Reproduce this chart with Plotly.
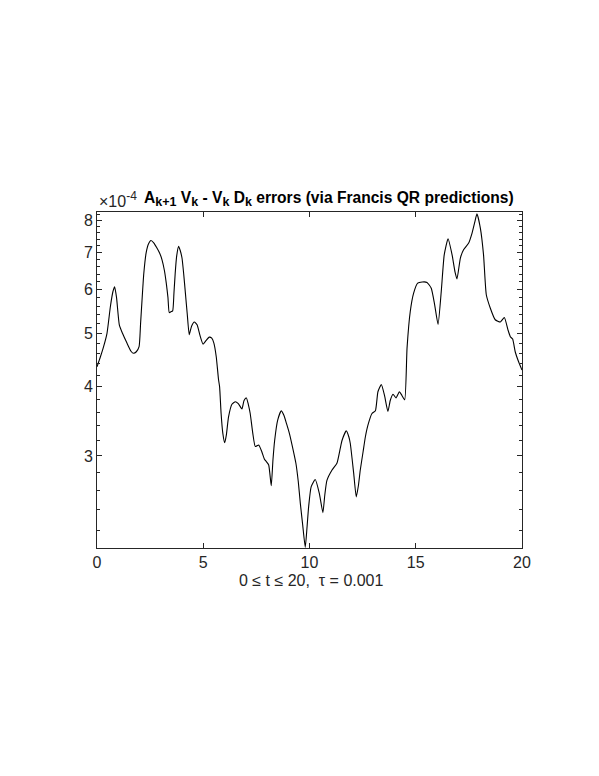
import plotly.graph_objects as go
import math

# time values
t_vals = [0.00, 0.15, 0.31, 0.47, 0.63, 0.75, 0.83, 0.92, 1.05, 1.20, 1.41, 1.60, 1.72, 1.85, 1.98,
          2.05, 2.12, 2.20, 2.31, 2.42, 2.54, 2.68, 2.82, 2.95, 3.06, 3.17, 3.26, 3.34, 3.40, 3.48,
          3.56, 3.62, 3.68, 3.75, 3.84, 3.92, 4.00, 4.08, 4.16, 4.25, 4.34, 4.45, 4.58, 4.71, 4.85,
          4.99, 5.13, 5.28, 5.40, 5.50, 5.61, 5.72, 5.77, 5.84, 5.92, 6.01, 6.09, 6.19, 6.35, 6.51,
          6.65, 6.82, 6.92, 7.03, 7.12, 7.21, 7.33, 7.45, 7.61, 7.76, 7.88, 7.97, 8.08, 8.20, 8.28,
          8.36, 8.50, 8.67, 8.80, 8.91, 9.05, 9.18, 9.36, 9.47, 9.57, 9.68, 9.80, 9.88, 9.96, 10.08,
          10.27, 10.46, 10.63, 10.72, 10.82, 11.06, 11.29, 11.45, 11.53, 11.73, 11.85, 11.92, 12.08,
          12.20, 12.30, 12.39, 12.52, 12.63, 12.75, 12.94, 13.10, 13.22, 13.38, 13.53, 13.69, 13.80,
          13.93, 14.07, 14.23, 14.35, 14.48, 14.59, 14.74, 14.90, 15.09, 15.30, 15.53, 15.73, 15.89,
          16.05, 16.20, 16.34, 16.52, 16.71, 16.85, 16.94, 17.10, 17.25, 17.49, 17.65, 17.78, 17.88,
          18.04, 18.19, 18.32, 18.51, 18.74, 18.98, 19.17, 19.34, 19.45, 19.56, 19.68, 19.84, 20.00]

# errors in units of 1e-4
err_e4 = [4.35, 4.52, 4.73, 5.00, 5.59, 5.95, 6.07, 5.80, 5.18, 5.00, 4.80, 4.64, 4.60, 4.63, 4.73,
          5.20, 5.75, 6.40, 6.98, 7.25, 7.36, 7.28, 7.13, 6.98, 6.79, 6.50, 6.16, 5.80, 5.45, 5.47,
          5.49, 5.90, 6.42, 6.90, 7.18, 7.05, 6.84, 6.40, 5.91, 5.40, 4.97, 5.15, 5.24, 5.18, 4.95,
          4.78, 4.85, 4.92, 4.90, 4.80, 4.54, 4.12, 4.00, 3.58, 3.30, 3.17, 3.28, 3.53, 3.72, 3.76,
          3.73, 3.65, 3.78, 3.82, 3.72, 3.58, 3.30, 3.12, 3.14, 3.05, 2.96, 2.93, 2.89, 2.65, 2.95,
          3.20, 3.48, 3.62, 3.55, 3.44, 3.30, 3.14, 2.91, 2.70, 2.46, 2.25, 2.05, 2.22, 2.43, 2.64,
          2.72, 2.57, 2.37, 2.55, 2.71, 2.83, 2.91, 3.10, 3.20, 3.33, 3.25, 3.16, 2.79,
          2.53, 2.65, 2.83, 3.05, 3.25, 3.41, 3.58, 3.62, 3.92, 4.04, 3.86, 3.61, 3.78,
          3.88, 3.82, 3.92, 3.86, 3.79, 4.70, 5.47, 5.91, 6.16, 6.19, 6.18, 6.03, 5.63,
          5.19, 5.95, 6.93, 7.41, 6.93, 6.45, 6.27, 6.84, 7.08, 7.28, 7.59, 7.95, 8.22,
          7.75, 6.93, 5.87, 5.55, 5.29, 5.24, 5.34, 5.07, 4.93, 4.88, 4.63, 4.44, 4.29]

scale = 1e-4
y_major = [3, 4, 5, 6, 7, 8]
y_major_text = ["3", "4", "5", "6", "7", "8"]
y_minor = [2.2, 2.4, 2.6, 2.8, 3.2, 3.4, 3.6, 3.8, 4.2, 4.4, 4.6, 4.8, 5.2, 5.4, 5.6, 5.8,
           6.2, 6.4, 6.6, 6.8, 7.2, 7.4, 7.6, 7.8, 8.2]
x_ticks = [0, 5, 10, 15, 20]
y_lo, y_hi = 2.045, 8.285

FONT = "Liberation Sans, Arial, Helvetica, sans-serif"
AXC = "#262626"

fig = go.Figure()
fig.add_trace(go.Scatter(
    x=t_vals, y=[v * scale for v in err_e4], mode="lines",
    line=dict(color="black", width=1.1, shape="spline", smoothing=0.5),
    hoverinfo="skip", showlegend=False))

fig.update_layout(
    width=599, height=776,
    margin=dict(l=89, r=85, t=204, b=236, pad=0),
    paper_bgcolor="white", plot_bgcolor="white",
    font=dict(family=FONT, size=16, color=AXC),
    showlegend=False,
)
fig.update_xaxes(
    range=[0, 20], tickvals=x_ticks, ticktext=[str(v) for v in x_ticks],
    ticks="inside", ticklen=5, tickwidth=1, tickcolor=AXC,
    showline=True, linecolor=AXC, linewidth=1, mirror="ticks",
    showgrid=False, zeroline=False, tickfont=dict(size=16, color=AXC),
)
fig.update_yaxes(
    type="log", range=[math.log10(y_lo * scale), math.log10(y_hi * scale)],
    tickvals=[v * scale for v in y_major], ticktext=y_major_text,
    ticks="inside", ticklen=5, tickwidth=1, tickcolor=AXC,
    minor=dict(tickmode="array", tickvals=[v * scale for v in y_minor],
               ticks="inside", ticklen=3, tickcolor=AXC, showgrid=False),
    showline=True, linecolor=AXC, linewidth=1, mirror="ticks",
    showgrid=False, zeroline=False, tickfont=dict(size=16, color=AXC),
)


def sub(s):
    return '<sub><span style="font-size:12.5px">' + s + '</span></sub>'


title_text = ("<b>A" + sub("k+1") + " V" + sub("k") + " - V" + sub("k") + " D" + sub("k")
              + " errors (via Francis QR predictions)</b>")

fig.add_annotation(
    text='×10<sup><span style="font-size:12px">-4</span></sup>', xref="paper", yref="paper",
    x=0.0, y=1.036, xanchor="left", yanchor="middle", showarrow=False,
    font=dict(family=FONT, size=16, color=AXC))
fig.add_annotation(
    text=title_text,
    xref="paper", yref="paper", x=0.545, y=1.040, xanchor="center", yanchor="middle",
    showarrow=False, font=dict(family=FONT, size=15.6, color="black"))
fig.add_annotation(
    text="0 ≤ t ≤ 20,\u00a0 τ = 0.001", xref="paper", yref="paper", x=0.504, y=-0.096,
    xanchor="center", yanchor="middle", showarrow=False,
    font=dict(family=FONT, size=16, color=AXC))

fig.write_html("out.html")
